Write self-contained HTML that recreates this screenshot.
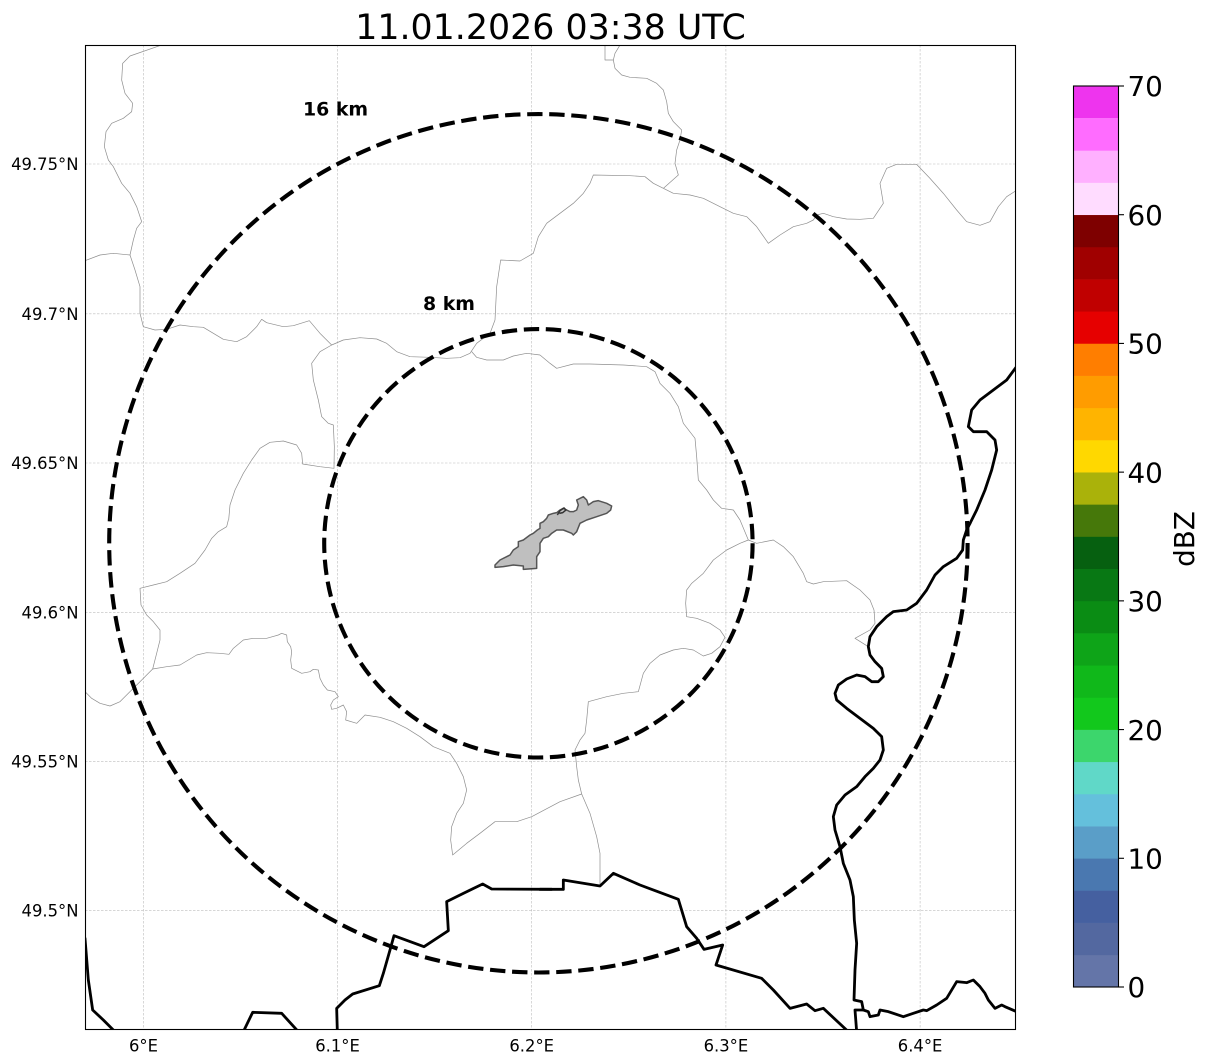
<!DOCTYPE html>
<html><head><meta charset="utf-8"><style>
html,body{margin:0;padding:0;background:#fff;}
svg{display:block;}
text{font-family:"DejaVu Sans","Liberation Sans",sans-serif;}
.g{fill:none;stroke:#8e8e8e;stroke-width:0.7;vector-effect:non-scaling-stroke;stroke-linejoin:round;}
.b{fill:none;stroke:#000;stroke-width:2.8;vector-effect:non-scaling-stroke;stroke-linejoin:round;stroke-linecap:round;}
.grid{stroke:#bdbdbd;stroke-width:0.6;stroke-dasharray:2.5 1.5;}
</style></head><body>
<svg width="1207" height="1064" viewBox="0 0 1207 1064" xmlns="http://www.w3.org/2000/svg">
<rect x="0" y="0" width="1207" height="1064" fill="#fff"/>
<defs><clipPath id="ax"><rect x="85.5" y="45.5" width="930" height="984"/></clipPath></defs>
<g clip-path="url(#ax)">
<g class="grid">
<line x1="143.5" y1="45" x2="143.5" y2="1030"/>
<line x1="337.5" y1="45" x2="337.5" y2="1030"/>
<line x1="531.7" y1="45" x2="531.7" y2="1030"/>
<line x1="725.9" y1="45" x2="725.9" y2="1030"/>
<line x1="920.1" y1="45" x2="920.1" y2="1030"/>
<line x1="85" y1="164" x2="1016" y2="164"/>
<line x1="85" y1="313.8" x2="1016" y2="313.8"/>
<line x1="85" y1="463" x2="1016" y2="463"/>
<line x1="85" y1="612.3" x2="1016" y2="612.3"/>
<line x1="85" y1="761.3" x2="1016" y2="761.3"/>
<line x1="85" y1="910.3" x2="1016" y2="910.3"/>
</g>
<g transform="translate(80,40) scale(0.333333)">
<path class="g" d="M245,15 L150,48 L128,70 L125,120 L135,160 L158,190 L155,215 L130,235 L95,250 L78,275 L73,320 L85,360 L100,380 L125,430 L150,460 L170,500 L185,545 L170,565 L160,600 L150,645 L165,690 L180,740 L180,820 L190,860 L225,870 L260,868 L300,855 L340,860 L370,862 L400,880 L430,898 L470,905 L500,890 L530,860 L545,838 L560,848 L610,860 L640,857 L688,842 L720,880 L755,915 L790,900 L840,893 L890,897 L920,910 L950,935 L990,950 L1050,952 L1100,955 L1140,953 L1170,940 L1190,910 L1230,880 L1245,840 L1250,740 L1262,660 L1320,663 L1360,640 L1375,590 L1400,550"/>
<path class="g" d="M150,645 L100,640 L60,645 L15,662"/>
<path class="g" d="M755,915 L720,935 L695,970 L700,1020 L715,1080 L725,1130 L745,1150 L760,1155 L763,1220 L762,1285 L720,1280 L668,1272 L665,1240 L650,1215 L610,1203 L570,1207 L540,1225 L515,1260 L490,1300 L465,1350 L450,1395 L446,1440"/>
<path class="g" d="M1175,935 L1190,952 L1220,960 L1270,960 L1300,948 L1340,940 L1380,945"/>
</g>
<g transform="translate(540,40) scale(0.333333)">
<path class="g" d="M195,15 L195,60 L220,60 L225,85 L245,105 L270,112 L320,115 L350,130 L370,150 L380,185 L385,220 L400,245 L425,270 L420,300 L410,330 L405,370 L415,405 L370,445"/>
<path class="g" d="M240,15 L225,40 L220,60"/>
<path class="g" d="M370,445 L340,430 L315,410 L270,407 L160,405 L150,430 L130,460 L100,490 L60,520 L20,550"/>
<path class="g" d="M370,445 L400,460 L450,465 L490,475 L540,500 L580,520 L620,530 L650,560 L685,610 L720,585 L760,560 L800,550 L820,540 L830,525 L850,520 L880,530 L920,537 L960,538 L1000,535 L1030,490 L1020,430 L1040,385 L1070,373 L1130,373 L1170,415 L1210,460 L1250,510 L1280,545 L1320,556 L1350,545 L1375,500 L1400,470 L1428,452"/>
<path class="g" d="M0,945 L30,970 L50,985 L100,972 L150,972 L250,975 L320,980 L345,995 L360,1030 L390,1060 L415,1100 L430,1150 L465,1195 L470,1250 L475,1320 L500,1350 L520,1380 L545,1405 L580,1410 L600,1440"/>
<path class="b" d="M1428,982 L1400,1020 L1360,1050 L1320,1080 L1295,1110 L1285,1160 L1300,1175 L1340,1175 L1365,1200 L1370,1230 L1355,1290 L1335,1350 L1310,1410 L1290,1450"/>
</g>
<g transform="translate(80,520) scale(0.333333)">
<path class="g" d="M445,0 L440,20 L415,35 L395,55 L375,90 L345,130 L300,160 L260,185 L220,195 L180,205 L183,255 L200,285 L220,305 L240,330 L240,360 L230,400 L218,447 L200,465 L175,490 L150,515 L120,545 L90,558 L60,550 L35,535 L15,515"/>
<path class="g" d="M218,447 L260,440 L300,435 L350,405 L380,398 L420,400 L447,403 L460,385 L490,360 L520,355 L560,355 L595,345 L605,340 L620,345 L622,365 L632,380 L635,395 L632,420 L635,445 L665,460 L690,455 L700,448 L715,450 L720,475 L730,495 L742,510 L765,515 L775,530 L760,540 L752,555 L755,568 L770,565 L790,555 L800,575 L797,600 L830,610 L845,595 L855,585 L900,592 L940,605 L980,625 L1020,650 L1060,680 L1110,700 L1130,730 L1150,770 L1160,810 L1150,850 L1130,880 L1115,920 L1112,960 L1118,1005 L1160,970 L1200,940 L1245,905 L1310,905 L1355,890"/>
<path class="b" d="M15,1255 L25,1380 L38,1470 L70,1500 L105,1535"/>
<path class="b" d="M490,1535 L518,1477 L605,1480 L655,1535"/>
<path class="b" d="M772,1535 L770,1465 L795,1440 L818,1422 L898,1397 L910,1360 L930,1290 L942,1247 L1032,1280 L1105,1232 L1100,1145 L1150,1120 L1208,1092 L1235,1107 L1415,1108"/>
</g>
<g transform="translate(540,520) scale(0.333333)">
<path class="g" d="M600,0 L625,60 L600,70 L560,90 L520,120 L490,160 L455,190 L440,210 L437,250 L440,290 L470,295 L510,310 L540,330 L555,352 L540,380 L515,400 L490,408 L460,390 L430,385 L400,390 L360,405 L330,430 L310,460 L295,515 L250,520 L200,530 L145,545 L140,600 L135,640 L120,660 L105,690 L110,740 L115,780 L125,822 L60,845 L-25,890"/>
<path class="g" d="M125,822 L150,880 L170,950 L180,1000 L180,1095"/>
<path class="g" d="M625,60 L650,70 L700,60 L730,80 L760,110 L790,160 L800,185 L820,192 L850,185 L920,182 L960,210 L990,240 L1002,270 L1005,310 L990,330 L945,355 L985,380"/>
<path class="b" d="M1290,10 L1280,30 L1270,60 L1268,90 L1250,115 L1210,140 L1185,165 L1160,210 L1130,250 L1100,270 L1060,275 L1040,290 L1010,320 L990,350 L985,380 L990,405 L1005,425 L1025,445 L1030,470 L1015,485 L995,485 L975,470 L950,465 L920,477 L895,495 L885,520 L890,540 L920,565 L960,595 L1000,625 L1025,650 L1030,690 L1020,720 L1000,745 L975,770 L950,800 L915,825 L890,855 L880,890 L885,930 L900,980 L910,1030 L930,1080 L940,1130 L943,1200 L950,1270 L945,1350 L942,1440 L965,1445 L970,1470 L945,1470 L950,1535"/>
<path class="b" d="M970,1470 L985,1475 L990,1490 L1015,1485 L1020,1470 L1045,1475 L1090,1490 L1120,1480 L1150,1470 L1160,1472 L1190,1455 L1220,1435 L1250,1385 L1280,1388 L1300,1380 L1320,1400 L1335,1420 L1345,1440 L1365,1465 L1385,1455 L1395,1460 L1430,1475"/>
<path class="b" d="M0,1108 L70,1108 L70,1080 L180,1098 L220,1060 L300,1095 L415,1138 L440,1220 L470,1255 L492,1288 L548,1275 L528,1335 L665,1375 L700,1410 L750,1465 L800,1452 L825,1472 L850,1465 L925,1535"/>
</g>
<g transform="translate(480,480) scale(0.333333)">
<path d="M45,255 L60,240 L90,225 L100,210 L115,200 L115,185 L130,180 L150,165 L160,160 L172,150 L180,145 L180,130 L190,125 L200,115 L205,105 L220,100 L230,98 L240,90 L250,85 L260,90 L270,95 L280,95 L290,90 L295,75 L290,60 L310,50 L320,60 L325,75 L340,65 L355,62 L380,70 L395,78 L392,90 L380,100 L350,110 L320,120 L300,130 L290,155 L280,165 L275,160 L250,150 L230,150 L215,160 L205,170 L190,175 L180,190 L180,215 L170,230 L170,265 L130,268 L130,258 L100,255 L70,260 L45,262 Z" fill="#bfbfbf" stroke="#555" stroke-width="1.5" vector-effect="non-scaling-stroke" stroke-linejoin="round"/>
<path d="M232,105 L240,92 L252,84 L258,90 L248,98 L238,100" fill="none" stroke="#333" stroke-width="1.5" vector-effect="non-scaling-stroke"/>
</g>
<circle cx="538.4" cy="543.3" r="429.2" fill="none" stroke="#000" stroke-width="4.1" stroke-dasharray="15.4 6.7"/>
<circle cx="538.4" cy="543.3" r="214.2" fill="none" stroke="#000" stroke-width="4.1" stroke-dasharray="15.4 6.7"/>
</g>
<text x="303" y="115.5" font-size="18.9" font-weight="bold" fill="#000">16 km</text>
<text x="423" y="310" font-size="18.9" font-weight="bold" fill="#000">8 km</text>
<rect x="85.5" y="45.5" width="930" height="984" fill="none" stroke="#000" stroke-width="1.1"/>
<text x="550.5" y="39" font-size="34.8" text-anchor="middle" fill="#000">11.01.2026 03:38 UTC</text>
<g font-size="16.4" text-anchor="end" fill="#000">
<text x="78.5" y="170">49.75°N</text>
<text x="78.5" y="319.8">49.7°N</text>
<text x="78.5" y="469">49.65°N</text>
<text x="78.5" y="618.3">49.6°N</text>
<text x="78.5" y="767.3">49.55°N</text>
<text x="78.5" y="916.3">49.5°N</text>
</g>
<g font-size="16.4" text-anchor="middle" fill="#000">
<text x="143.5" y="1051.5">6°E</text>
<text x="337.5" y="1051.5">6.1°E</text>
<text x="531.7" y="1051.5">6.2°E</text>
<text x="725.9" y="1051.5">6.3°E</text>
<text x="920.1" y="1051.5">6.4°E</text>
</g>
<g>
<rect x="1073.5" y="954.82" width="45" height="32.5" fill="#6475a8"/>
<rect x="1073.5" y="922.64" width="45" height="32.5" fill="#5368a0"/>
<rect x="1073.5" y="890.46" width="45" height="32.5" fill="#4560a0"/>
<rect x="1073.5" y="858.29" width="45" height="32.5" fill="#4a78b0"/>
<rect x="1073.5" y="826.11" width="45" height="32.5" fill="#5a9ec8"/>
<rect x="1073.5" y="793.93" width="45" height="32.5" fill="#64c0dc"/>
<rect x="1073.5" y="761.75" width="45" height="32.5" fill="#60d8c8"/>
<rect x="1073.5" y="729.57" width="45" height="32.5" fill="#3cd66c"/>
<rect x="1073.5" y="697.39" width="45" height="32.5" fill="#12c81c"/>
<rect x="1073.5" y="665.21" width="45" height="32.5" fill="#10b81a"/>
<rect x="1073.5" y="633.04" width="45" height="32.5" fill="#0ea418"/>
<rect x="1073.5" y="600.86" width="45" height="32.5" fill="#0a8c14"/>
<rect x="1073.5" y="568.68" width="45" height="32.5" fill="#087814"/>
<rect x="1073.5" y="536.50" width="45" height="32.5" fill="#066010"/>
<rect x="1073.5" y="504.32" width="45" height="32.5" fill="#46780a"/>
<rect x="1073.5" y="472.14" width="45" height="32.5" fill="#aab20a"/>
<rect x="1073.5" y="439.96" width="45" height="32.5" fill="#ffd800"/>
<rect x="1073.5" y="407.79" width="45" height="32.5" fill="#ffb400"/>
<rect x="1073.5" y="375.61" width="45" height="32.5" fill="#ff9c00"/>
<rect x="1073.5" y="343.43" width="45" height="32.5" fill="#ff7e00"/>
<rect x="1073.5" y="311.25" width="45" height="32.5" fill="#e60000"/>
<rect x="1073.5" y="279.07" width="45" height="32.5" fill="#c00000"/>
<rect x="1073.5" y="246.89" width="45" height="32.5" fill="#a00000"/>
<rect x="1073.5" y="214.71" width="45" height="32.5" fill="#7e0000"/>
<rect x="1073.5" y="182.54" width="45" height="32.5" fill="#ffdcff"/>
<rect x="1073.5" y="150.36" width="45" height="32.5" fill="#ffb0ff"/>
<rect x="1073.5" y="118.18" width="45" height="32.5" fill="#ff6cff"/>
<rect x="1073.5" y="86" width="45" height="32.2" fill="#ee34ee"/>
<rect x="1073.5" y="86" width="45" height="901" fill="none" stroke="#000" stroke-width="1.1"/>
</g>
<g stroke="#000" stroke-width="1.1">
<line x1="1118.5" y1="86" x2="1124" y2="86"/>
<line x1="1118.5" y1="214.71" x2="1124" y2="214.71"/>
<line x1="1118.5" y1="343.43" x2="1124" y2="343.43"/>
<line x1="1118.5" y1="472.14" x2="1124" y2="472.14"/>
<line x1="1118.5" y1="600.86" x2="1124" y2="600.86"/>
<line x1="1118.5" y1="729.57" x2="1124" y2="729.57"/>
<line x1="1118.5" y1="858.29" x2="1124" y2="858.29"/>
<line x1="1118.5" y1="987" x2="1124" y2="987"/>
</g>
<g font-size="27.8" fill="#000">
<text x="1127.5" y="96.2">70</text>
<text x="1127.5" y="224.9">60</text>
<text x="1127.5" y="353.6">50</text>
<text x="1127.5" y="482.3">40</text>
<text x="1127.5" y="611">30</text>
<text x="1127.5" y="739.8">20</text>
<text x="1127.5" y="868.5">10</text>
<text x="1127.5" y="997.2">0</text>
</g>
<text transform="translate(1194,539) rotate(-90)" font-size="27.8" text-anchor="middle" fill="#000">dBZ</text>
</svg>
</body></html>
